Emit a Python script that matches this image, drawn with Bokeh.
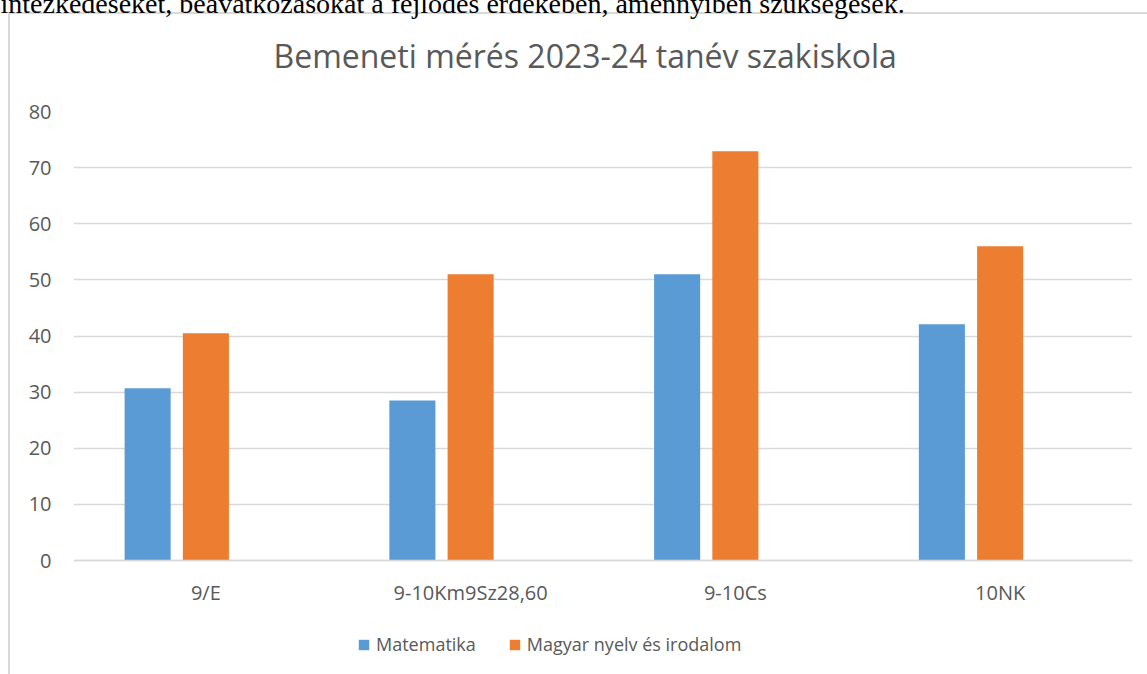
from bokeh.plotting import figure
from bokeh.models import (FactorRange, Range1d, FixedTicker, Legend, LegendItem,
                          ColumnDataSource, Title)
from bokeh.transform import dodge
from bokeh.embed import file_html
from bokeh.resources import INLINE

# ---- data ----
categories = ["9/E", "9-10Km9Sz28,60", "9-10Cs", "10NK"]
matematika = [30.7, 28.5, 51.0, 42.1]
magyar = [40.5, 51.0, 72.9, 56.0]
series_names = ["Matematika", "Magyar nyelv és irodalom"]
y_ticks = [0, 10, 20, 30, 40, 50, 60, 70, 80]
title_text = "Bemeneti mérés 2023-24 tanév szakiskola"
paragraph_text = "intézkedéseket, beavatkozásokat a fejlődés érdekében, amennyiben szükségesek."

# ---- layout ----
K = 30                      # extra canvas hidden above the window top
W, H = 1147, 674 + K
FL, FR, FT = 73, 15, 111 + K
PLOT_H = 560 - 111          # pixels for 0..80
Y_MAX = 80
Y_MIN = -(674 - 560) * Y_MAX / PLOT_H   # frame extends down to window bottom
GRAY = "#595959"
GRID = "#d9d9d9"
BLUE = "#5B9BD5"
ORANGE = "#ED7D31"

p = figure(width=W, height=H,
           x_range=FactorRange(factors=categories, range_padding=0),
           y_range=Range1d(Y_MIN, Y_MAX),
           output_backend="svg", toolbar_location=None,
           min_border_left=FL, min_border_right=FR,
           min_border_top=FT, min_border_bottom=0)
p.styles = {
    "margin-top": f"-{K}px",
    "background-color": "white",
    "background-image": f"linear-gradient({GRID},{GRID}), linear-gradient({GRID},{GRID})",
    "background-size": "2px 100%, 100% 2px",
    "background-position": f"8px {12 + K}px, 8px {12 + K}px",
    "background-repeat": "no-repeat",
}
p.outline_line_color = None
p.background_fill_color = "white"
p.border_fill_alpha = 0

src = ColumnDataSource(dict(cat=categories, mat=matematika, mag=magyar))
r1 = p.vbar(x=dodge("cat", -0.22, range=p.x_range), top="mat", bottom=0, width=0.174,
            source=src, fill_color=BLUE, line_color=None)
r2 = p.vbar(x=dodge("cat", 0.0, range=p.x_range), top="mag", bottom=0, width=0.174,
            source=src, fill_color=ORANGE, line_color=None)

# axes
xa = p.xaxis[0]
xa.fixed_location = 0
xa.axis_line_color = GRID
xa.axis_line_width = 1.5
xa.major_tick_line_color = None
xa.minor_tick_line_color = None
xa.major_label_text_font = "Open Sans"
xa.major_label_text_font_size = "20px"
xa.major_label_text_color = GRAY
xa.major_label_standoff = 12

ya = p.yaxis[0]
ya.ticker = FixedTicker(ticks=y_ticks)
ya.axis_line_color = None
ya.major_tick_line_color = None
ya.minor_tick_line_color = None
ya.major_label_text_font = "Open Sans"
ya.major_label_text_font_size = "20px"
ya.major_label_text_color = GRAY
ya.major_label_standoff = 16

p.xgrid.grid_line_color = None
p.ygrid.grid_line_color = GRID
p.ygrid.grid_line_width = 1.5

# legend (inside the extended frame, under the category labels)
legend = Legend(items=[LegendItem(label=series_names[0], renderers=[r1]),
                       LegendItem(label=series_names[1], renderers=[r2])],
                orientation="horizontal", location=(284, 18),
                glyph_width=13, glyph_height=13, label_standoff=6, spacing=32,
                padding=0, margin=0, border_line_color=None, background_fill_alpha=0,
                label_text_font="Open Sans", label_text_font_size="18px",
                label_text_color=GRAY)
p.add_layout(legend)

# title
p.add_layout(Title(text=title_text, align="left", offset=200,
                   text_font="Open Sans", text_font_size="32px",
                   text_font_style="normal", text_color=GRAY, standoff=70), "above")

# cut-off paragraph line above the chart
p.add_layout(Title(text=paragraph_text, align="left", offset=-73,
                   text_font="Liberation Serif", text_font_size="28px",
                   text_font_style="normal", text_color="black", standoff=-45), "above")

open("out.html", "w").write(file_html(p, INLINE))
